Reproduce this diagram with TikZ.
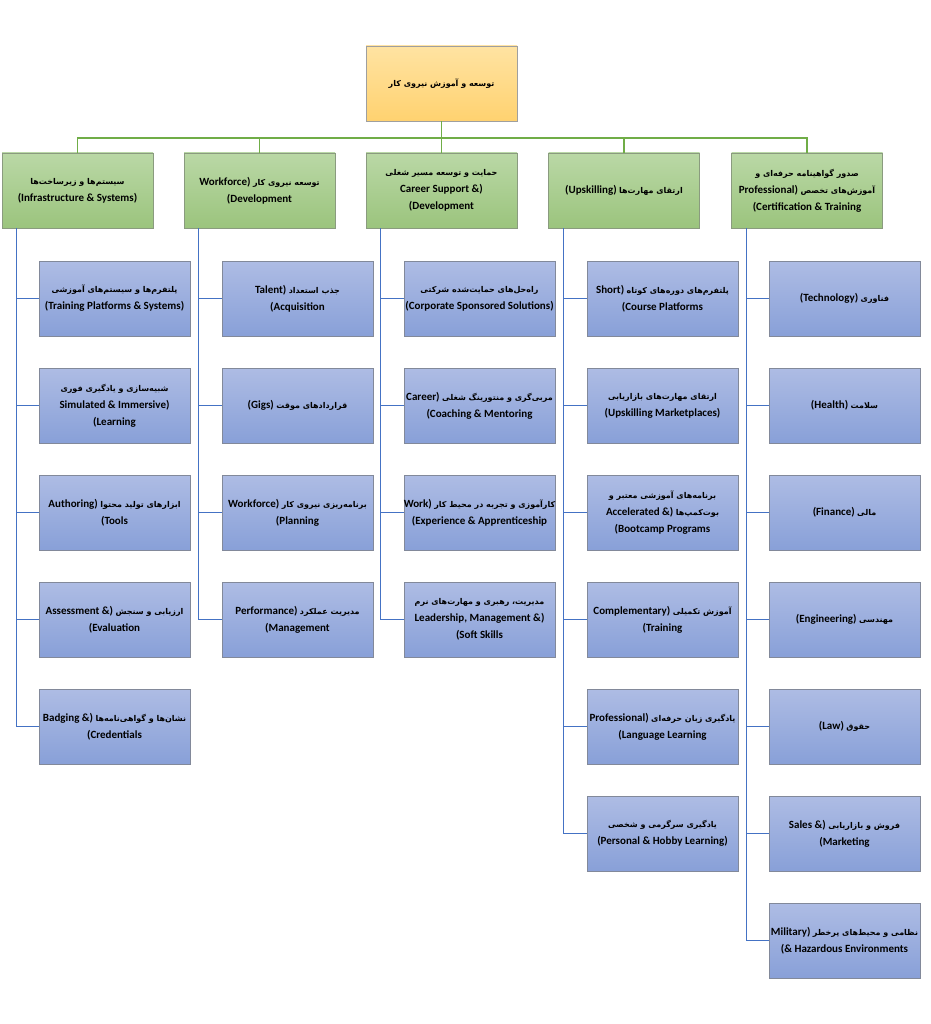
\documentclass[tikz,border=0pt]{standalone}
\usepackage{fontspec}
\setmainfont{Carlito}
\newfontfamily\persianfont[Script=Arabic]{DejaVu Sans}
\TeXXeTstate=1
\usetikzlibrary{positioning}

\definecolor{rootTop}{RGB}{255,227,162}
\definecolor{rootBot}{RGB}{255,210,112}
\definecolor{catTop}{RGB}{186,216,166}
\definecolor{catBot}{RGB}{155,196,125}
\definecolor{itemTop}{RGB}{174,188,228}
\definecolor{itemBot}{RGB}{136,160,216}
\definecolor{greenline}{RGB}{112,173,71}
\definecolor{blueline}{RGB}{68,114,196}

\newcommand{\fatxt}[1]{{\persianfont\fontsize{8}{10}\selectfont\beginR #1\endR}}

\tikzset{
  box/.style={minimum width=151pt, minimum height=75pt, align=center,
    inner xsep=-3pt, inner ysep=1pt, font=\bfseries\fontsize{11}{17}\selectfont},
  rootbox/.style={box, draw=gray!75, top color=rootTop, bottom color=rootBot},
  catbox/.style={box, draw=gray!60!catBot, top color=catTop, bottom color=catBot},
  itembox/.style={box, draw=gray!70!itemBot, top color=itemTop, bottom color=itemBot},
  greenlink/.style={draw=greenline, line width=1.5pt},
  bluelink/.style={draw=blueline, line width=1.2pt}
}

\begin{document}
\begin{tikzpicture}[x=1pt,y=-1pt]
\useasboundingbox (0,0) rectangle (930,1024);

% top
\node[rootbox] (root) at (441.5,83.5) {\fatxt{توسعه و آموزش نیروی کار}};

% second level
\node[catbox] (infra) at (77.5,190.5) {\fatxt{سیستم‌ها و زیرساخت‌ها}\\(Infrastructure \& Systems)};
\node[catbox] (devel) at (259.5,190.5) {Workforce) \fatxt{توسعه نیروی کار}\\(Development};
\node[catbox] (career) at (441.5,190.5) {\fatxt{حمایت و توسعه مسیر شغلی}\\Career Support \&)\\(Development};
\node[catbox] (upskill) at (624,190.5) {(Upskilling) \fatxt{ارتقای مهارت‌ها}};
\node[catbox] (certif) at (807,190.5) {\fatxt{صدور گواهینامه حرفه‌ای و}\\Professional) \fatxt{آموزش‌های تخصص}\\(Certification \& Training};

\draw[greenlink] (root.south) -- ++(0,17) -| (infra.north);
\draw[greenlink] (root.south) -- ++(0,17) -| (devel.north);
\draw[greenlink] (root.south) -- (career.north);
\draw[greenlink] (root.south) -- ++(0,17) -| (upskill.north);
\draw[greenlink] (root.south) -- ++(0,17) -| (certif.north);

% infrastructure
\node[itembox] (i1) at (114.5,298.5) {\fatxt{پلتفرم‌ها و سیستم‌های آموزشی}\\(Training Platforms \& Systems)};
\node[itembox] (i2) at (114.5,405.5) {\fatxt{شبیه‌سازی و یادگیری فوری}\\Simulated \& Immersive)\\(Learning};
\node[itembox] (i3) at (114.5,512.5) {Authoring) \fatxt{ابزارهای تولید محتوا}\\(Tools};
\node[itembox] (i4) at (114.5,619.5) {Assessment \&) \fatxt{ارزیابی و سنجش}\\(Evaluation};
\node[itembox] (i5) at (114.5,726.5) {Badging \&) \fatxt{نشان‌ها و گواهی‌نامه‌ها}\\(Credentials};

\draw[bluelink] ([xshift=15pt]infra.south west) |- (i1.west);
\draw[bluelink] ([xshift=15pt]infra.south west) |- (i2.west);
\draw[bluelink] ([xshift=15pt]infra.south west) |- (i3.west);
\draw[bluelink] ([xshift=15pt]infra.south west) |- (i4.west);
\draw[bluelink] ([xshift=15pt]infra.south west) |- (i5.west);

% workforce development
\node[itembox] (d1) at (297.5,298.5) {Talent) \fatxt{جذب استعداد}\\(Acquisition};
\node[itembox] (d2) at (297.5,405.5) {(Gigs) \fatxt{قراردادهای موقت}};
\node[itembox] (d3) at (297.5,512.5) {Workforce) \fatxt{برنامه‌ریزی نیروی کار}\\(Planning};
\node[itembox] (d4) at (297.5,619.5) {Performance) \fatxt{مدیریت عملکرد}\\(Management};

\draw[bluelink] ([xshift=15pt]devel.south west) |- (d1.west);
\draw[bluelink] ([xshift=15pt]devel.south west) |- (d2.west);
\draw[bluelink] ([xshift=15pt]devel.south west) |- (d3.west);
\draw[bluelink] ([xshift=15pt]devel.south west) |- (d4.west);

% career support
\node[itembox] (c1) at (479.5,298.5) {\fatxt{راه‌حل‌های حمایت‌شده شرکتی}\\(Corporate Sponsored Solutions)};
\node[itembox] (c2) at (479.5,405.5) {Career) \fatxt{مربی‌گری و منتورینگ شغلی}\\(Coaching \& Mentoring};
\node[itembox] (c3) at (479.5,512.5) {Work) \fatxt{کارآموزی و تجربه در محیط کار}\\(Experience \& Apprenticeship};
\node[itembox] (c4) at (479.5,619.5) {\fatxt{مدیریت، رهبری و مهارت‌های نرم}\\Leadership, Management \&)\\(Soft Skills};

\draw[bluelink] ([xshift=15pt]career.south west) |- (c1.west);
\draw[bluelink] ([xshift=15pt]career.south west) |- (c2.west);
\draw[bluelink] ([xshift=15pt]career.south west) |- (c3.west);
\draw[bluelink] ([xshift=15pt]career.south west) |- (c4.west);

% upskilling
\node[itembox] (u1) at (662.5,298.5) {Short) \fatxt{پلتفرم‌های دوره‌های کوتاه}\\(Course Platforms};
\node[itembox] (u2) at (662.5,405.5) {\fatxt{ارتقای مهارت‌های بازاریابی}\\(Upskilling Marketplaces)};
\node[itembox] (u3) at (662.5,512.5) {\fatxt{برنامه‌های آموزشی معتبر و}\\Accelerated \&) \fatxt{بوت‌کمپ‌ها}\\(Bootcamp Programs};
\node[itembox] (u4) at (662.5,619.5) {Complementary) \fatxt{آموزش تکمیلی}\\(Training};
\node[itembox] (u5) at (662.5,726.5) {Professional) \fatxt{یادگیری زبان حرفه‌ای}\\(Language Learning};
\node[itembox] (u6) at (662.5,833.5) {\fatxt{یادگیری سرگرمی و شخصی}\\(Personal \& Hobby Learning)};

\draw[bluelink] ([xshift=15pt]upskill.south west) |- (u1.west);
\draw[bluelink] ([xshift=15pt]upskill.south west) |- (u2.west);
\draw[bluelink] ([xshift=15pt]upskill.south west) |- (u3.west);
\draw[bluelink] ([xshift=15pt]upskill.south west) |- (u4.west);
\draw[bluelink] ([xshift=15pt]upskill.south west) |- (u5.west);
\draw[bluelink] ([xshift=15pt]upskill.south west) |- (u6.west);

% certification
\node[itembox] (t1) at (844.5,298.5) {(Technology) \fatxt{فناوری}};
\node[itembox] (t2) at (844.5,405.5) {(Health) \fatxt{سلامت}};
\node[itembox] (t3) at (844.5,512.5) {(Finance) \fatxt{مالی}};
\node[itembox] (t4) at (844.5,619.5) {(Engineering) \fatxt{مهندسی}};
\node[itembox] (t5) at (844.5,726.5) {(Law) \fatxt{حقوق}};
\node[itembox] (t6) at (844.5,833.5) {Sales \&) \fatxt{فروش و بازاریابی}\\(Marketing};
\node[itembox] (t7) at (844.5,940.5) {Military) \fatxt{نظامی و محیط‌های پرخطر}\\(\& Hazardous Environments};

\draw[bluelink] ([xshift=15pt]certif.south west) |- (t1.west);
\draw[bluelink] ([xshift=15pt]certif.south west) |- (t2.west);
\draw[bluelink] ([xshift=15pt]certif.south west) |- (t3.west);
\draw[bluelink] ([xshift=15pt]certif.south west) |- (t4.west);
\draw[bluelink] ([xshift=15pt]certif.south west) |- (t5.west);
\draw[bluelink] ([xshift=15pt]certif.south west) |- (t6.west);
\draw[bluelink] ([xshift=15pt]certif.south west) |- (t7.west);
\end{tikzpicture}
\end{document}
